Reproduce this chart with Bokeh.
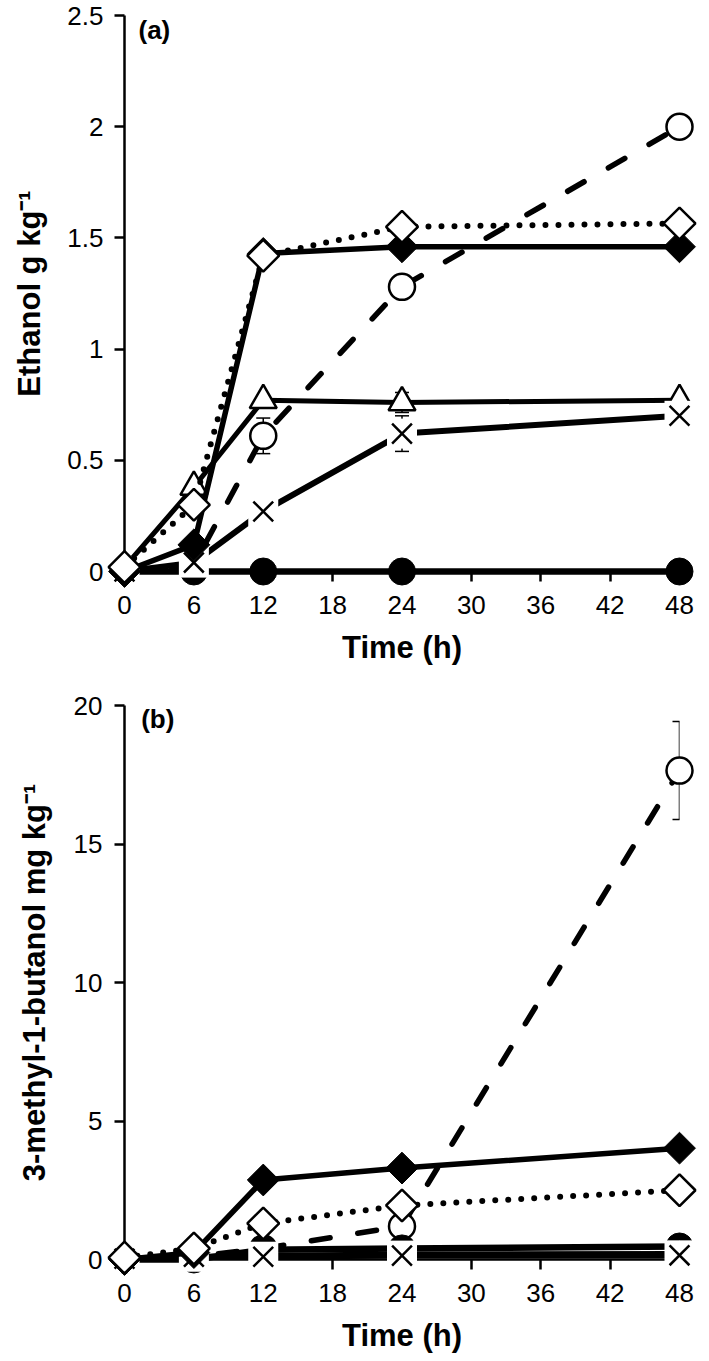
import math
from bokeh.plotting import figure
from bokeh.layouts import column
from bokeh.models import Range1d, FixedTicker, Whisker, TeeHead, ColumnDataSource, Label
from bokeh.embed import file_html
from bokeh.resources import INLINE

# ---------------- data ----------------
time_h = [0, 6, 12, 24, 48]
x_ticks = [0, 6, 12, 18, 24, 30, 36, 42, 48]
x_tick_labels = ["0", "6", "12", "18", "24", "30", "36", "42", "48"]
x_title = "Time (h)"

# panel (a) ethanol
a_title = "Ethanol g kg\u207b\u00b9"
a_y_ticks = [0, 0.5, 1, 1.5, 2, 2.5]
a_y_tick_labels = ["0", "0.5", "1", "1.5", "2", "2.5"]
a_filled_circle = [0.0, 0.0, 0.0, 0.0, 0.0]
a_open_circle = [0.0, 0.03, 0.61, 1.28, 2.0]
a_open_circle_err = [0, 0, 0.08, 0, 0]
a_triangle = [0.02, 0.38, 0.77, 0.76, 0.77]
a_triangle_err = [0, 0, 0, 0.045, 0]
a_cross = [0.0, 0.04, 0.27, 0.62, 0.70]
a_cross_err = [0, 0, 0, 0.08, 0]
a_filled_diamond = [0.0, 0.12, 1.43, 1.46, 1.46]
a_open_diamond = [0.02, 0.30, 1.42, 1.55, 1.565]

# panel (b) 3-methyl-1-butanol
b_title = "3-methyl-1-butanol mg kg\u207b\u00b9"
b_y_ticks = [0, 5, 10, 15, 20]
b_y_tick_labels = ["0", "5", "10", "15", "20"]
b_filled_circle = [0.0, 0.0, 0.35, 0.40, 0.47]
b_open_circle = [0.0, 0.10, 0.40, 1.20, 17.65]
b_open_circle_err = [0, 0, 0, 0, 1.77]
b_triangle = [0.0, 0.05, 0.15, 0.20, 0.22]
b_triangle_err = [0, 0, 0, 0, 0]
b_cross = [0.03, 0.10, 0.10, 0.14, 0.15]
b_cross_err = [0, 0, 0, 0, 0]
b_filled_diamond = [0.0, 0.25, 2.87, 3.30, 4.02]
b_open_diamond = [0.07, 0.40, 1.30, 1.95, 2.50]

FONT = "Liberation Sans"
LVL = "overlay"


def add_err(p, y, err):
    xs = [t for t, e in zip(time_h, err) if e > 0]
    if not xs:
        return
    lo = [v - e for v, e in zip(y, err) if e > 0]
    hi = [v + e for v, e in zip(y, err) if e > 0]
    src = ColumnDataSource(dict(x=xs, lower=lo, upper=hi))
    w = Whisker(source=src, base="x", lower="lower", upper="upper",
                line_color="black", line_width=1.5, level="annotation",
                upper_head=TeeHead(size=14, line_width=1.5, line_color="black"),
                lower_head=TeeHead(size=14, line_width=1.5, line_color="black"))
    p.add_layout(w)


def draw_panel(p, fc, oc, oc_err, tri, tri_err, cr, cr_err, fd, od):
    add_err(p, oc, oc_err)
    add_err(p, tri, tri_err)
    add_err(p, cr, cr_err)
    # open circle, dashed
    p.line(time_h, oc, line_color="black", line_width=5.5, line_dash="19 28",
           line_cap="round", level=LVL)
    p.scatter(time_h, oc, marker="circle", size=26, fill_color="white",
              line_color="black", line_width=2.5, level=LVL)
    # filled circle, thick solid
    p.line(time_h, fc, line_color="black", line_width=6.5, line_join="round", level=LVL)
    p.scatter(time_h, fc, marker="circle", size=27, fill_color="black",
              line_color="black", line_width=1, level=LVL)
    # open triangle, solid
    p.line(time_h, tri, line_color="black", line_width=5, line_join="round", level=LVL)
    p.scatter(time_h, tri, marker="triangle", size=27, fill_color="white",
              line_color="black", line_width=2.5, level=LVL)
    # cross, solid, knocked out around the markers
    p.line(time_h, cr, line_color="black", line_width=6, line_join="round", level=LVL)
    p.scatter(time_h, cr, marker="square", size=30, fill_color="white",
              line_color=None, level=LVL)
    p.scatter(time_h, cr, marker="x", size=28, line_color="black",
              line_width=2.5, level=LVL)
    # filled diamond, solid
    p.line(time_h, fd, line_color="black", line_width=5.5, line_join="round", level=LVL)
    p.scatter(time_h, fd, marker="square", angle=math.pi / 4, size=22.5,
              fill_color="black", line_color="black", line_width=1, level=LVL)
    # open diamond, dotted
    p.line(time_h, od, line_color="black", line_width=6, line_dash="0 13",
           line_cap="round", level=LVL)
    p.scatter(time_h, od, marker="square", angle=math.pi / 4, size=22.5,
              fill_color="white", line_color="black", line_width=2.5, level=LVL)


def style(p, yticks, ylabels, ytitle, lab_standoff, title_standoff):
    p.grid.visible = False
    p.outline_line_color = None
    p.background_fill_color = "white"
    p.border_fill_color = "white"
    for ax in (p.xaxis[0], p.yaxis[0]):
        ax.axis_line_color = "black"
        ax.axis_line_width = 2.5
        ax.major_tick_line_color = "black"
        ax.major_tick_line_width = 2.5
        ax.major_tick_out = 10
        ax.major_tick_in = 0
        ax.minor_tick_out = 0
        ax.minor_tick_in = 0
        ax.major_label_text_font = FONT
        ax.major_label_text_font_size = "26px"
        ax.major_label_text_color = "black"
        ax.axis_label_text_font = FONT
        ax.axis_label_text_font_size = "31px"
        ax.axis_label_text_font_style = "bold"
        ax.axis_label_text_color = "black"
    xa = p.xaxis[0]
    xa.ticker = FixedTicker(ticks=x_ticks)
    xa.major_label_overrides = dict(zip(x_ticks, x_tick_labels))
    xa.major_label_standoff = 14
    xa.axis_label = x_title
    xa.axis_label_standoff = 13
    ya = p.yaxis[0]
    ya.ticker = FixedTicker(ticks=yticks)
    ya.major_label_overrides = dict(zip(yticks, ylabels))
    ya.major_label_standoff = lab_standoff
    ya.axis_label = ytitle
    ya.axis_label_standoff = title_standoff


# ---------------- panel (a) ----------------
pa = figure(width=709, height=690, x_range=Range1d(0, 48), y_range=Range1d(0, 2.5),
            min_border_left=124, min_border_right=30, min_border_top=15,
            min_border_bottom=119, toolbar_location=None, output_backend="svg")
style(pa, a_y_ticks, a_y_tick_labels, a_title, 11, 17)
draw_panel(pa, a_filled_circle, a_open_circle, a_open_circle_err, a_triangle,
           a_triangle_err, a_cross, a_cross_err, a_filled_diamond, a_open_diamond)
pa.add_layout(Label(x=1.21, y=2.437, text="(a)", text_font=FONT, text_font_size="26px",
                    text_font_style="bold", text_color="black",
                    text_baseline="middle", text_align="left"))

# ---------------- panel (b) ----------------
pb = figure(width=709, height=671, x_range=Range1d(0, 48), y_range=Range1d(0, 20),
            min_border_left=120, min_border_right=21, min_border_top=15,
            min_border_bottom=102, toolbar_location=None, output_backend="svg")
style(pb, b_y_ticks, b_y_tick_labels, b_title, 12, 19)
draw_panel(pb, b_filled_circle, b_open_circle, b_open_circle_err, b_triangle,
           b_triangle_err, b_cross, b_cross_err, b_filled_diamond, b_open_diamond)
pb.add_layout(Label(x=1.44, y=19.53, text="(b)", text_font=FONT, text_font_size="26px",
                    text_font_style="bold", text_color="black",
                    text_baseline="middle", text_align="left"))

layout = column(pa, pb)
open("out.html", "w").write(file_html(layout, INLINE))
